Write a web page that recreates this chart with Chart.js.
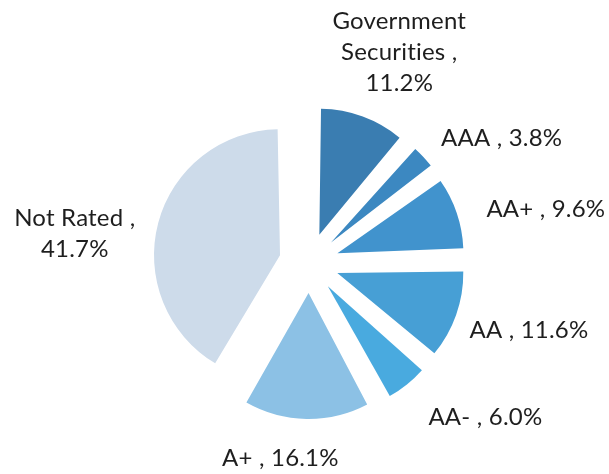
<!DOCTYPE html>
<html>
<head>
<meta charset="utf-8">
<script src="https://cdn.jsdelivr.net/npm/chart.js@4.4.1/dist/chart.umd.min.js"></script>
<style>
  html, body { margin: 0; padding: 0; background: #fff; }
  #wrap { width: 609px; height: 474px; }
</style>
</head>
<body>
<div id="wrap"><canvas id="ratingPie"></canvas></div>
<script>
// portfolio split by credit rating, in %
let ratings = ["Government Securities", "AAA", "AA+", "AA", "AA-", "A+", "Not Rated"];
let shares = [11.2, 3.8, 9.6, 11.6, 6.0, 16.1, 41.7];
let sliceColors = ["#3a7db1", "#3c88c1", "#4193cd", "#479fd5", "#49aadf", "#8cc1e5", "#cddbea"];

// label placement: shift from the default spot out along each slice
let labelNudge = [[11, 5], [24, 32], [19, 20], [3, -9], [32, -25], [-25, -35], [-12, 30]];

const PIE_RADIUS = 126;
const EXPLODE = 120;      // chart.js moves each arc by offset/4
const LABEL_GAP = 74;
const WRAP_WIDTH = 160;

// chart.js grows small exploded arcs a bit, pull them back to one radius
const evenRadius = {
    id: 'evenRadius',
    afterDatasetsUpdate(chart){
        const meta = chart.getDatasetMeta(0);
        for (const arc of meta.data) {
            let shift = (arc.options.offset || 0) / 4;
            let fix = 1 - Math.sin(Math.min(Math.PI, arc.circumference));
            arc.outerRadius = PIE_RADIUS - shift * fix;
        }
    }
};

function wrapText(ctx, text, maxWidth){
    let words = text.split(' ');
    let lines = [];
    let line = '';
    for (const w of words) {
        let test = line ? line + ' ' + w : w;
        if (line && ctx.measureText(test).width > maxWidth) {
            lines.push(line);
            line = w;
        } else {
            line = test;
        }
    }
    lines.push(line);
    return lines;
}

const sliceLabels = {
    id: 'sliceLabels',
    afterDatasetsDraw(chart){
        const ctx = chart.ctx;
        const meta = chart.getDatasetMeta(0);
        ctx.save();
        ctx.font = '24px Lato';
        ctx.letterSpacing = '0.2px';
        ctx.fillStyle = '#1e1e1e';
        ctx.textAlign = 'center';
        ctx.textBaseline = 'middle';
        const lineHeight = 31;
        meta.data.forEach((arc, i) => {
            let mid = (arc.startAngle + arc.endAngle) / 2;
            let shift = (arc.options.offset || 0) / 4;
            let dist = shift + PIE_RADIUS + LABEL_GAP;
            let x = arc.x + Math.cos(mid) * dist + labelNudge[i][0];
            let y = arc.y + Math.sin(mid) * dist + labelNudge[i][1];
            let text = ratings[i] + ' , ' + shares[i].toFixed(1) + '%';
            let lines = wrapText(ctx, text, WRAP_WIDTH);
            let top = y - (lines.length - 1) * lineHeight / 2;
            lines.forEach((ln, k) => ctx.fillText(ln, x, top + k * lineHeight));
        });
        ctx.restore();
    }
};

new Chart("ratingPie", {
    type: "pie",
    data: {
        labels: ratings,
        datasets: [{
            data: shares,
            backgroundColor: sliceColors,
            borderWidth: 0,
            offset: EXPLODE
        }]
    },
    options: {
        responsive: true,
        maintainAspectRatio: false,
        animation: false,
        radius: PIE_RADIUS,
        layout: {
            padding: { left: 19, right: 10, top: 52, bottom: 0 }
        },
        plugins: {
            legend: { display: false },
            tooltip: { enabled: false }
        }
    },
    plugins: [evenRadius, sliceLabels]
});
</script>
</body>
</html>
